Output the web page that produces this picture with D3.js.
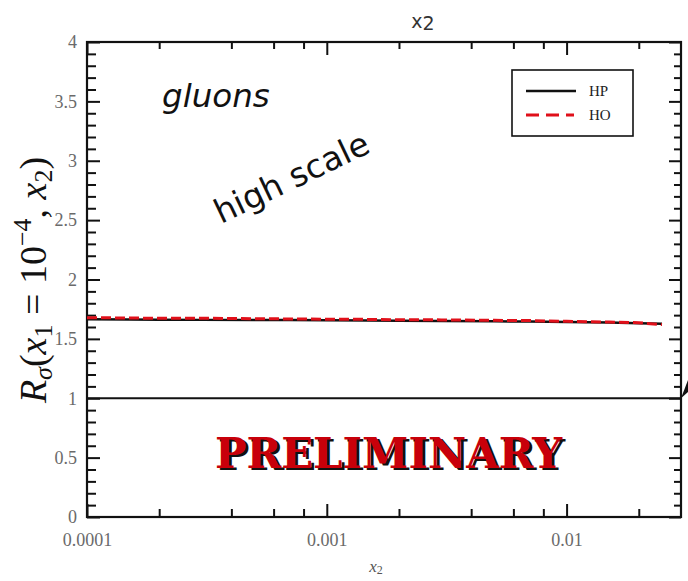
<!DOCTYPE html>
<html>
<head>
<meta charset="utf-8">
<script src="https://cdn.jsdelivr.net/npm/d3@7"></script>
<style>
  body { margin: 0; background: #fff; }
  svg { display: block; }
  .tick text { font-family: "Liberation Serif", serif; font-size: 18px; fill: #6a6a6a; }
  .domain { display: none; }
</style>
</head>
<body>
<div id="chart"></div>
<script>
// ratio R_sigma(x1 = 1e-4, x2) for gluons at high scale
var x2Values = [0.0001, 0.00015, 0.0002, 0.0003, 0.0005, 0.0007, 0.001, 0.0015, 0.002, 0.003, 0.005, 0.007, 0.01, 0.015, 0.02, 0.025];
var hpValues = [1.665, 1.664, 1.662, 1.660, 1.658, 1.659, 1.656, 1.655, 1.653, 1.650, 1.648, 1.646, 1.642, 1.638, 1.632, 1.628];
var hoValues = [1.678, 1.676, 1.673, 1.674, 1.670, 1.668, 1.666, 1.664, 1.661, 1.660, 1.656, 1.654, 1.648, 1.642, 1.636, 1.620];
var referenceLevel = [1];
var xMajorTicks = [0.0001, 0.001, 0.01];
var xTickLabels = ["0.0001", "0.001", "0.01"];
var xMinorMultipliers = [2, 4, 6, 8];
var yMajorTicks = [0, 0.5, 1, 1.5, 2, 2.5, 3, 3.5, 4];
var yTickLabels = ["0", "0.5", "1", "1.5", "2", "2.5", "3", "3.5", "4"];
var seriesNames = ["HP", "HO"];

var width = 688, height = 581;
var plotLeft = 87, plotRight = 681, plotTop = 42, plotBottom = 517;

var svg = d3.select("#chart").append("svg")
    .attr("width", width)
    .attr("height", height);

var x = d3.scaleLog().domain([0.0001, 0.03]).range([plotLeft, plotRight]);
var y = d3.scaleLinear().domain([0, 4]).range([plotBottom, plotTop]);

// minor ticks: 2,4,6,8 per decade, tenths on y
var xMinor = [];
[0.0001, 0.001, 0.01].forEach(function (d) {
    xMinorMultipliers.forEach(function (m) {
        if (d * m <= 0.03) { xMinor.push(d * m); }
    });
});
var yMinor = d3.range(0, 41).map(function (i) { return i / 10; })
    .filter(function (v) { return Math.round(v * 10) % 5 !== 0; });

function drawAxis(axis, tx, ty) {
    var g = svg.append("g")
        .attr("transform", "translate(" + tx + "," + ty + ")")
        .call(axis);
    g.selectAll(".tick line").attr("stroke", "#111").attr("stroke-width", 2);
    return g;
}

// bottom
drawAxis(d3.axisBottom(x).tickValues(xMajorTicks).tickSize(-13).tickPadding(16)
    .tickFormat(function (d, i) { return xTickLabels[i]; }), 0, plotBottom);
drawAxis(d3.axisBottom(x).tickValues(xMinor).tickSize(-8).tickFormat(""), 0, plotBottom);
// top
drawAxis(d3.axisTop(x).tickValues(xMajorTicks).tickSize(-13).tickFormat(""), 0, plotTop);
drawAxis(d3.axisTop(x).tickValues(xMinor).tickSize(-7).tickFormat(""), 0, plotTop);
// left
drawAxis(d3.axisLeft(y).tickValues(yMajorTicks).tickSize(-13).tickPadding(10)
    .tickFormat(function (d, i) { return yTickLabels[i]; }), plotLeft, 0);
drawAxis(d3.axisLeft(y).tickValues(yMinor).tickSize(-9).tickFormat(""), plotLeft, 0);
// right
drawAxis(d3.axisRight(y).tickValues(yMajorTicks).tickSize(-12).tickFormat(""), plotRight, 0);
drawAxis(d3.axisRight(y).tickValues(yMinor).tickSize(-7).tickFormat(""), plotRight, 0);

// frame
svg.append("rect")
    .attr("x", plotLeft).attr("y", plotTop)
    .attr("width", plotRight - plotLeft).attr("height", plotBottom - plotTop)
    .attr("fill", "none").attr("stroke", "#111").attr("stroke-width", 2.2);

// reference line at 1
svg.selectAll(".ref").data(referenceLevel).enter().append("line")
    .attr("x1", x(0.0001)).attr("x2", x(0.03))
    .attr("y1", function (d) { return y(d); })
    .attr("y2", function (d) { return y(d); })
    .attr("stroke", "#111").attr("stroke-width", 2);

// arrow tip poking in from the right
svg.append("path")
    .attr("d", "M" + plotRight + "," + y(1) + "L688,380L688,392Z")
    .attr("fill", "#111");

var line = d3.line()
    .x(function (d) { return x(d[0]); })
    .y(function (d) { return y(d[1]); });

svg.append("path")
    .datum(d3.zip(x2Values, hpValues))
    .attr("d", line)
    .attr("fill", "none").attr("stroke", "#111").attr("stroke-width", 2.5);

svg.append("path")
    .datum(d3.zip(x2Values, hoValues))
    .attr("d", line)
    .attr("fill", "none").attr("stroke", "#e0101a").attr("stroke-width", 3)
    .attr("stroke-dasharray", "10,4");

// legend
var legend = svg.append("g");
legend.append("rect")
    .attr("x", 512).attr("y", 70).attr("width", 121).attr("height", 66)
    .attr("fill", "#fff").attr("stroke", "#111").attr("stroke-width", 1.6);
seriesNames.forEach(function (name, i) {
    var ly = 91 + i * 24;
    legend.append("line")
        .attr("x1", 526).attr("x2", 576).attr("y1", ly).attr("y2", ly)
        .attr("stroke", i === 0 ? "#111" : "#e0101a")
        .attr("stroke-width", i === 0 ? 2.5 : 3)
        .attr("stroke-dasharray", i === 0 ? null : "13,7,13,7,8");
    legend.append("text")
        .attr("x", 589).attr("y", ly + 5)
        .attr("font-family", "Liberation Serif, serif").attr("font-size", 15)
        .attr("fill", "#222")
        .text(name);
});

// top title x2
var topTitle = svg.append("text")
    .attr("x", 423).attr("y", 28)
    .attr("text-anchor", "middle")
    .attr("font-family", "DejaVu Sans, sans-serif").attr("font-size", 19)
    .attr("fill", "#333");
topTitle.append("tspan").text("x");
topTitle.append("tspan").attr("dy", 2).text("2");

// bottom title x2
var xTitle = svg.append("text")
    .attr("x", 376).attr("y", 572)
    .attr("text-anchor", "middle")
    .attr("font-family", "Liberation Serif, serif").attr("font-size", 17)
    .attr("fill", "#555");
xTitle.append("tspan").attr("font-style", "italic").text("x");
xTitle.append("tspan").attr("font-size", 12).attr("dy", 2).text("2");

// y title
var yTitle = svg.append("text")
    .attr("transform", "translate(46,280) rotate(-90)")
    .attr("text-anchor", "middle")
    .attr("font-family", "Liberation Serif, serif").attr("font-size", 38)
    .attr("fill", "#111");
yTitle.append("tspan").attr("font-style", "italic").text("R");
yTitle.append("tspan").attr("font-style", "italic").attr("font-size", 26).attr("dy", 6).text("σ");
yTitle.append("tspan").attr("dy", -6).text("(");
yTitle.append("tspan").attr("font-style", "italic").text("x");
yTitle.append("tspan").attr("font-size", 26).attr("dy", 6).text("1");
yTitle.append("tspan").attr("dy", -6).text(" = 10");
yTitle.append("tspan").attr("font-size", 26).attr("dy", -15).text("−4");
yTitle.append("tspan").attr("dy", 15).text(", ");
yTitle.append("tspan").attr("font-style", "italic").text("x");
yTitle.append("tspan").attr("font-size", 26).attr("dy", 6).text("2");
yTitle.append("tspan").attr("dy", -6).text(")");

// annotations
svg.append("text")
    .attr("x", 162).attr("y", 107)
    .attr("font-family", "DejaVu Sans, sans-serif").attr("font-style", "italic")
    .attr("font-size", 32.5).attr("fill", "#111")
    .text("gluons");

svg.append("text")
    .attr("transform", "translate(221,224) rotate(-25.6)")
    .attr("font-family", "DejaVu Sans, sans-serif")
    .attr("font-size", 33).attr("fill", "#111")
    .text("high scale");

// watermark with shadow
[["#111", 3, 2], ["#c8000a", 0, 0]].forEach(function (s) {
    svg.append("text")
        .attr("x", 215 + s[1]).attr("y", 468 + s[2])
        .attr("textLength", 347).attr("lengthAdjust", "spacingAndGlyphs")
        .attr("font-family", "DejaVu Serif, serif").attr("font-weight", "bold")
        .attr("font-size", 43).attr("fill", s[0])
        .text("PRELIMINARY");
});
</script>
</body>
</html>
